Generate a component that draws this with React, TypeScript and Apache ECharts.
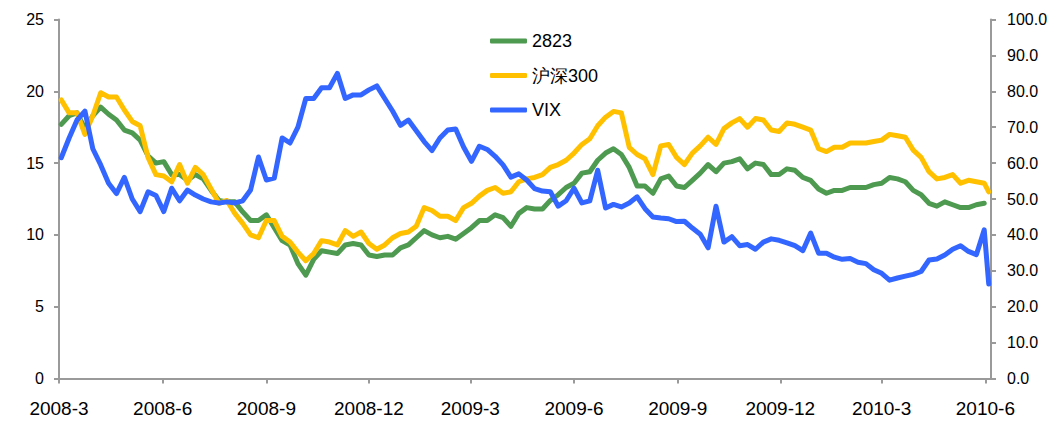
import React, { useEffect, useRef } from "react";
import * as echarts from "echarts";

// Weekly observation dates (Mondays from 2008-03-03) plus the last trading day shown
const weekStart = [2008, 2, 3];
const weekCount = 118;
const lastDay = [2010, 5, 4];

// Quarter tick labels on the date axis
const quarterTicks = [
  [2008, 2], [2008, 5], [2008, 8], [2008, 11],
  [2009, 2], [2009, 5], [2009, 8], [2009, 11],
  [2010, 2], [2010, 5],
];

const seriesNames = ["2823", "沪深300", "VIX"];

// 2823 (left axis)
const s2823 = [
  17.7, 18.3, 18.5, 17.4, 18.3, 18.9, 18.4, 18.0, 17.3, 17.1,
  16.6, 15.5, 15.0, 15.1, 14.2, 14.2, 13.8, 14.2, 13.9, 13.1,
  12.4, 12.3, 12.3, 11.6, 11.0, 11.0, 11.4, 10.5, 9.6, 9.3,
  8.0, 7.2, 8.3, 8.9, 8.8, 8.7, 9.3, 9.4, 9.3, 8.6,
  8.5, 8.6, 8.6, 9.1, 9.3, 9.8, 10.3, 10.0, 9.8, 9.9,
  9.7, 10.1, 10.5, 11.0, 11.0, 11.4, 11.2, 10.6, 11.5, 11.9,
  11.8, 11.8, 12.4, 12.8, 13.3, 13.6, 14.3, 14.4, 15.2, 15.7,
  16.0, 15.6, 14.7, 13.4, 13.4, 12.9, 13.9, 14.1, 13.4, 13.3,
  13.8, 14.3, 14.9, 14.4, 15.0, 15.1, 15.3, 14.6, 15.0, 14.9,
  14.2, 14.2, 14.6, 14.5, 14.0, 13.8, 13.2, 12.9, 13.1, 13.1,
  13.3, 13.3, 13.3, 13.5, 13.6, 14.0, 13.9, 13.7, 13.1, 12.8,
  12.2, 12.0, 12.3, 12.1, 11.9, 11.9, 12.1, 12.2,
  null,
];

// 沪深300 (left axis)
const sHS300 = [
  19.4, 18.5, 18.5, 17.0, 18.3, 19.9, 19.6, 19.6, 18.7, 17.9,
  17.6, 15.4, 14.2, 14.1, 13.7, 14.9, 13.6, 14.7, 14.2, 13.2,
  12.2, 12.4, 11.5, 10.8, 10.0, 9.8, 11.0, 11.0, 9.9, 9.5,
  8.8, 8.2, 8.7, 9.6, 9.5, 9.3, 10.3, 9.9, 10.2, 9.4,
  9.0, 9.3, 9.8, 10.1, 10.2, 10.6, 11.9, 11.7, 11.3, 11.3,
  11.0, 11.9, 12.2, 12.7, 13.1, 13.3, 12.9, 13.0, 13.7, 13.9,
  14.0, 14.2, 14.7, 14.9, 15.2, 15.7, 16.3, 16.7, 17.6, 18.2,
  18.6, 18.5, 16.1, 15.6, 15.3, 14.2, 16.2, 16.3, 15.4, 14.9,
  15.7, 16.2, 16.8, 16.3, 17.4, 17.8, 18.1, 17.5, 18.1, 18.0,
  17.3, 17.2, 17.8, 17.7, 17.5, 17.3, 16.0, 15.8, 16.1, 16.1,
  16.4, 16.4, 16.4, 16.5, 16.6, 17.0, 16.9, 16.8, 15.9, 15.4,
  14.4, 13.9, 14.0, 14.2, 13.6, 13.8, 13.7, 13.6,
  13.0,
];

// VIX (right axis)
const sVIX = [
  61.5, 67.0, 72.0, 74.5, 64.0, 59.5, 54.4, 51.5, 56.0, 50.0,
  46.5, 52.0, 51.0, 46.5, 53.0, 49.5, 52.5, 51.1, 50.0, 49.2,
  48.9, 49.2, 48.9, 49.5, 52.5, 61.7, 55.3, 55.8, 67.0, 65.6,
  70.0, 78.0, 78.0, 81.0, 81.0, 85.0, 78.0, 79.0, 79.0, 80.4,
  81.5, 78.0, 74.5, 70.5, 72.0, 69.0, 66.0, 63.5, 67.0, 69.2,
  69.5, 64.5, 60.5, 64.7, 63.8, 61.9, 59.5, 56.1, 57.0, 55.3,
  52.9, 52.2, 52.0, 48.0, 49.5, 53.0, 48.9, 49.5, 58.0, 47.5,
  48.5, 47.8, 48.9, 50.6, 47.3, 45.0, 44.7, 44.5, 43.7, 43.8,
  41.9, 40.2, 36.4, 48.0, 38.0, 39.5, 37.0, 37.3, 36.0, 38.0,
  38.9, 38.5, 37.8, 37.0, 35.6, 40.5, 34.9, 34.9, 33.8, 33.2,
  33.4, 32.4, 32.0, 30.3, 29.3, 27.4, 28.0, 28.5, 29.0, 29.8,
  33.0, 33.3, 34.4, 36.0, 37.0, 35.4, 34.5, 41.4,
  26.3,
];

const colors = ["#4E9A50", "#FFC000", "#3366FF"];
const FONT = "'Liberation Sans', Arial, Helvetica, sans-serif";

export default function App() {
  const ref = useRef<HTMLDivElement>(null);

  useEffect(() => {
    if (!ref.current) return;
    const chart = echarts.init(ref.current, undefined, { renderer: "svg" });

    const dates: number[] = [];
    for (let k = 0; k < weekCount; k++) {
      dates.push(new Date(weekStart[0], weekStart[1], weekStart[2] + 7 * k).getTime());
    }
    dates.push(new Date(lastDay[0], lastDay[1], lastDay[2]).getTime());

    const pair = (arr: (number | null)[]) =>
      dates.map((d, i) => [d, arr[i] == null ? null : arr[i]]);

    const tickVals = quarterTicks.map(([y, m]) => new Date(y, m, 1).getTime());

    const lineSeries = (name: string, data: any[], color: string, yIdx: number) => ({
      name,
      type: "line",
      data,
      yAxisIndex: yIdx,
      showSymbol: false,
      symbol: "none",
      connectNulls: false,
      lineStyle: { color, width: 5, join: "round", cap: "round" },
      itemStyle: { color },
      z: 2,
    });

    const axisLineStyle = { color: "#9a9a9a", width: 2 };

    chart.setOption({
      animation: false,
      backgroundColor: "#ffffff",
      textStyle: { fontFamily: FONT },
      grid: { left: 59, right: 65, top: 19.5, bottom: 50.5, containLabel: false },
      legend: {
        orient: "vertical",
        left: 490,
        top: 32,
        padding: 0,
        icon: "roundRect",
        itemWidth: 37,
        itemHeight: 5,
        itemGap: 16.5,
        data: seriesNames,
        textStyle: { fontSize: 18, color: "#000", fontFamily: FONT },
      },
      xAxis: {
        type: "value",
        min: new Date(2008, 2, 1).getTime(),
        max: new Date(2010, 5, 6).getTime(),
        axisLine: { show: true, lineStyle: axisLineStyle },
        axisTick: { show: true, length: 5, lineStyle: axisLineStyle, customValues: tickVals },
        axisLabel: {
          customValues: tickVals,
          color: "#000",
          fontSize: 19,
          fontFamily: FONT,
          margin: 20,
          formatter: (v: number) => {
            const d = new Date(v);
            return d.getFullYear() + "-" + (d.getMonth() + 1);
          },
        },
        splitLine: { show: false },
      },
      yAxis: [
        {
          type: "value",
          min: 0,
          max: 25,
          interval: 5,
          position: "left",
          axisLine: { show: true, lineStyle: axisLineStyle },
          axisTick: { show: true, length: 5, lineStyle: axisLineStyle },
          axisLabel: { color: "#000", fontSize: 16, fontFamily: FONT, margin: 15 },
          splitLine: { show: false },
        },
        {
          type: "value",
          min: 0,
          max: 100,
          interval: 10,
          position: "right",
          axisLine: { show: true, lineStyle: axisLineStyle },
          axisTick: { show: true, length: 5, lineStyle: axisLineStyle },
          axisLabel: {
            color: "#000",
            fontSize: 16,
            fontFamily: FONT,
            margin: 16,
            formatter: (v: number) => v.toFixed(1),
          },
          splitLine: { show: false },
        },
      ],
      series: [
        lineSeries(seriesNames[0], pair(s2823), colors[0], 0),
        lineSeries(seriesNames[1], pair(sHS300), colors[1], 0),
        lineSeries(seriesNames[2], pair(sVIX), colors[2], 1),
      ],
    });

    return () => chart.dispose();
  }, []);

  return (
    <div
      ref={ref}
      style={{ position: "fixed", left: 0, top: 0, width: 1056, height: 429, background: "#fff" }}
    />
  );
}
